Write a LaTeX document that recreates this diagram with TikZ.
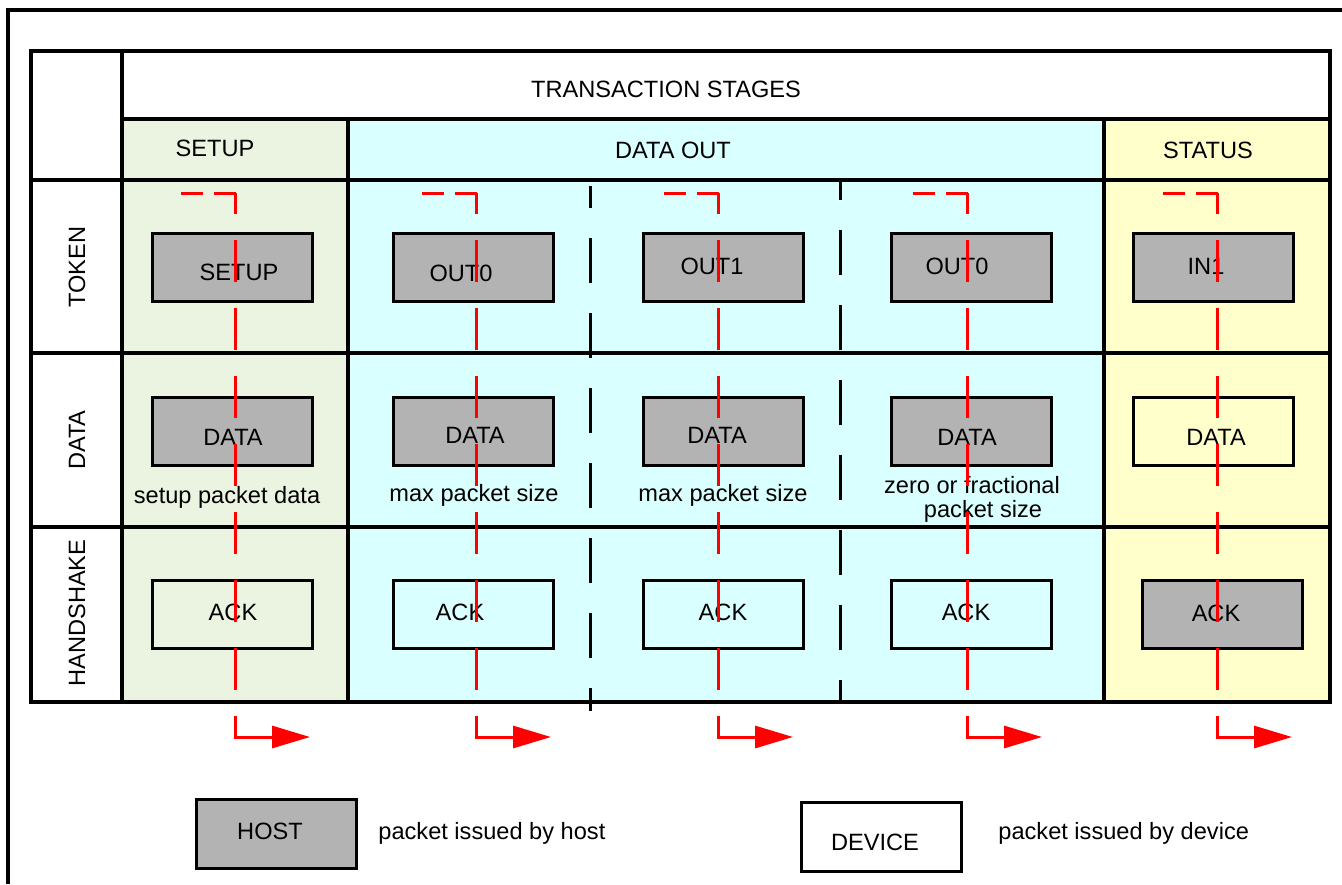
\documentclass[tikz,border=0pt]{standalone}
\usepackage{fontspec}
\setmainfont{Liberation Sans}
\usetikzlibrary{arrows.meta}

\definecolor{setupbg}{RGB}{235,244,224}
\definecolor{databg}{RGB}{217,255,255}
\definecolor{statusbg}{RGB}{255,255,204}
\definecolor{hostgray}{RGB}{179,179,179}
\definecolor{flowred}{RGB}{255,0,0}

\begin{document}
\begin{tikzpicture}[x=0.5pt,y=-0.5pt,
  every node/.style={font=\fontsize{11.8}{14}\selectfont, inner sep=0pt},
  txt/.style={anchor=base},
  frameline/.style={line width=1.8pt},
  grid/.style={line width=2pt, line cap=rect},
  pkt/.style={draw, line width=1.5pt, minimum width=80pt, minimum height=34pt},
  hostpkt/.style={pkt, fill=hostgray},
  devpkt/.style={pkt},
  sepline/.style={line width=1.5pt, dash pattern=on 22.5pt off 15pt},
  flow/.style={flowred, line width=1.5pt},
  flowtop/.style={flow, dash pattern=on 11pt off 5.5pt},
  flowdown/.style={flow, dash pattern=on 21pt off 13pt, dash phase=10.5pt},
  flowout/.style={flow, -{Triangle[length=19pt,width=11pt]}}
]
\useasboundingbox (0,0) rectangle (1342,884);

% outer frame
\draw[frameline] (8,884) -- (8,10) -- (1342,10);

% stage backgrounds
\fill[setupbg]  (122,119) rectangle (348,702);
\fill[databg]   (348,119) rectangle (1104,702);
\fill[statusbg] (1104,119) rectangle (1330,702);

% table grid
\draw[grid] (31,51) rectangle (1330,702);
\draw[grid] (122,51) -- (122,702);
\draw[grid] (122,119) -- (1330,119);
\draw[grid] (31,180) -- (1330,180);
\draw[grid] (31,353) -- (1330,353);
\draw[grid] (31,527) -- (1330,527);
\draw[grid] (348,119) -- (348,702);
\draw[grid] (1104,119) -- (1104,702);

% sub-stage separators inside DATA OUT
\draw[sepline, dash phase=11.5pt] (590,186) -- (590,711);
\draw[sepline, dash phase=12.5pt] (840,180) -- (840,702);

% headings
\node[txt] (hstages) at (666,97) {TRANSACTION STAGES};
\node[txt] (hsetup)  at (215,156) {SETUP};
\node[txt] (hdata)   at (673,158) {DATA OUT};
\node[txt] (hstatus) at (1208,158) {STATUS};

% row labels
\node[rotate=90] (rtoken) at (77,267) {TOKEN};
\node[rotate=90] (rdata)  at (77,440) {DATA};
\node[rotate=90] (rhand)  at (77,613) {HANDSHAKE};

% token packets
\node[hostpkt] (t1) at (232,267) {};
\node[hostpkt] (t2) at (473,267) {};
\node[hostpkt] (t3) at (723,267) {};
\node[hostpkt] (t4) at (971,267) {};
\node[hostpkt] (t5) at (1213,267) {};
\node[txt] at (239,280) {SETUP};
\node[txt] at (461,281) {OUT0};
\node[txt] at (712,274) {OUT1};
\node[txt] at (957,274) {OUT0};
\node[txt] at (1206,274) {IN1};

% data packets
\node[hostpkt] (d1) at (232,431.5) {};
\node[hostpkt] (d2) at (473,431.5) {};
\node[hostpkt] (d3) at (723,431.5) {};
\node[hostpkt] (d4) at (971,431.5) {};
\node[devpkt]  (d5) at (1213,431.5) {};
\node[txt] at (233,445) {DATA};
\node[txt] at (475,443) {DATA};
\node[txt] at (717,443) {DATA};
\node[txt] at (967,445) {DATA};
\node[txt] at (1216,445) {DATA};

% data sizes
\node[txt] (z1) at (227,503) {setup packet data};
\node[txt] (z2) at (474,501) {max packet size};
\node[txt] (z3) at (723,501) {max packet size};
\node[txt] (z4a) at (972,493) {zero or fractional};
\node[txt] (z4b) at (983,517) {packet size};

% handshake packets
\node[devpkt]  (h1) at (232,614) {};
\node[devpkt]  (h2) at (473,614) {};
\node[devpkt]  (h3) at (723,614) {};
\node[devpkt]  (h4) at (971,614) {};
\node[hostpkt] (h5) at (1222,614) {};
\node[txt] at (233,620) {ACK};
\node[txt] at (460,620) {ACK};
\node[txt] at (723,620) {ACK};
\node[txt] at (966,620) {ACK};
\node[txt] at (1216,621) {ACK};

% transaction flow
\foreach \i/\x in {1/235,2/476,3/718,4/967,5/1217} {
  \coordinate (fs\i) at (\x-54,193);
  \coordinate (fc\i) at (\x+1.5,193);
  \coordinate (ft\i) at (\x,193);
  \coordinate (fd\i) at (\x,738.5);
  \coordinate (fb\i) at (\x,737);
  \coordinate (fe\i) at (\x+75,737);
  \draw[flowtop] (fs\i) -- (fc\i);
  \draw[flowdown] (ft\i) -- (fd\i);
  \draw[flowout] (fb\i) -- (fe\i);
}

% legend
\node[hostpkt, minimum height=34.5pt] (lhost) at (276.5,833.5) {};
\node[txt] at (270,839) {HOST};
\node[txt, anchor=base west] (lhostt) at (378,839) {packet issued by host};
\node[devpkt, minimum height=34.5pt] (ldev) at (881.5,836.5) {};
\node[txt] at (875,850) {DEVICE};
\node[txt, anchor=base west] (ldevt) at (998,839) {packet issued by device};
\end{tikzpicture}
\end{document}
